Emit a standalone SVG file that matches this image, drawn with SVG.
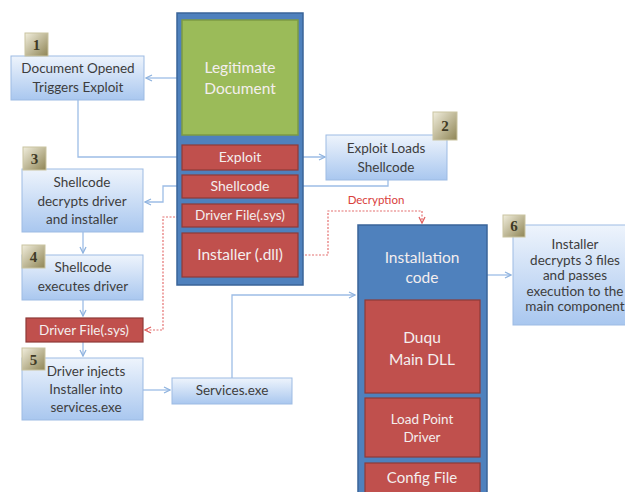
<svg xmlns="http://www.w3.org/2000/svg" width="625" height="492" viewBox="0 0 625 492">
  <defs>
    <linearGradient id="stepFill" x1="0" y1="0" x2="0" y2="1">
      <stop offset="0" stop-color="#eef4fc"/>
      <stop offset="1" stop-color="#a9c7ef"/>
    </linearGradient>
    <linearGradient id="badgeFill" x1="0" y1="0" x2="1" y2="1">
      <stop offset="0" stop-color="#f1eedd"/>
      <stop offset="1" stop-color="#8f8555"/>
    </linearGradient>
    <marker id="arrowBlue" viewBox="0 0 8 8" refX="7" refY="4" markerWidth="8" markerHeight="8" markerUnits="userSpaceOnUse" orient="auto">
      <path d="M1,1 L7,4 L1,7" fill="none" stroke="#8fb3df" stroke-width="1.3"/>
    </marker>
    <marker id="arrowRed" viewBox="0 0 8 8" refX="7" refY="4" markerWidth="8" markerHeight="8" markerUnits="userSpaceOnUse" orient="auto">
      <path d="M1,1 L7,4 L1,7" fill="none" stroke="#e06060" stroke-width="1.3"/>
    </marker>
  </defs>
  <style>
    .step { fill: url(#stepFill); stroke: #9dbbe3; stroke-width: 1; }
    .badge { fill: url(#badgeFill); stroke: #c9c3a0; stroke-width: 1; }
    .badgeText { font-family: "Liberation Serif", serif; font-size: 15px; font-weight: bold; fill: #3f3a26; text-anchor: middle; }
    .stepText { font-family: Lato, "Liberation Sans", sans-serif; font-size: 13.5px; fill: #3d3d3d; text-anchor: middle; }
    .container { fill: #4f81bd; stroke: #3a6499; stroke-width: 1.5; }
    .doc { fill: #9bbb59; stroke: #7d9a43; stroke-width: 1.5; }
    .part { fill: #c0504d; stroke: #8e3a38; stroke-width: 1.2; }
    .whiteText { font-family: Lato, "Liberation Sans", sans-serif; fill: #f4eeee; text-anchor: middle; }
    .link { fill: none; stroke: #9dbde6; stroke-width: 1.3; }
    .redLink { fill: none; stroke: #e47070; stroke-width: 1.2; stroke-dasharray: 2 1.5; }
    .redLabel { font-family: Lato, "Liberation Sans", sans-serif; font-size: 11.5px; fill: #d9403c; text-anchor: middle; }
  </style>

  <rect width="625" height="492" fill="#ffffff"/>

  <!-- connectors (drawn first so the columns sit on top) -->
  <g id="connectors">
    <path class="link" d="M177,78 H146" marker-end="url(#arrowBlue)"/>
    <path class="link" d="M78,100 V157 H325" marker-end="url(#arrowBlue)"/>
    <path class="link" d="M388,180 V186 H163 V202 H145" marker-end="url(#arrowBlue)"/>
    <path class="link" d="M83,232 V253" marker-end="url(#arrowBlue)"/>
    <path class="link" d="M83,300 V316" marker-end="url(#arrowBlue)"/>
    <path class="link" d="M83,342 V356" marker-end="url(#arrowBlue)"/>
    <path class="link" d="M143,390 H170" marker-end="url(#arrowBlue)"/>
    <path class="link" d="M232,378 V295 H355" marker-end="url(#arrowBlue)"/>
    <path class="link" d="M487,275 H511" marker-end="url(#arrowBlue)"/>
    <path class="redLink" d="M182,217 H163 V330 H145" marker-end="url(#arrowRed)"/>
    <path class="redLink" d="M298,255 H328 V211 H422 V223" marker-end="url(#arrowRed)"/>
    <text class="redLabel" x="376" y="204">Decryption</text>
  </g>

  <!-- payload document column -->
  <g id="document">
    <rect class="container" x="177" y="13" width="126" height="272"/>
    <rect class="doc" x="182" y="20" width="116" height="115"/>
    <text class="whiteText" x="240" y="73" font-size="15.5">Legitimate</text>
    <text class="whiteText" x="240" y="94" font-size="15.5">Document</text>
  </g>
  <g id="exploit">
    <rect class="part" x="182" y="145" width="116" height="25"/>
    <text class="whiteText" x="240" y="162" font-size="14">Exploit</text>
  </g>
  <g id="shellcode">
    <rect class="part" x="182" y="175" width="116" height="23"/>
    <text class="whiteText" x="240" y="191" font-size="14">Shellcode</text>
  </g>
  <g id="driverfile-embedded">
    <rect class="part" x="182" y="204" width="116" height="23"/>
    <text class="whiteText" x="240" y="220" font-size="13.5">Driver File(.sys)</text>
  </g>
  <g id="installer-embedded">
    <rect class="part" x="182" y="233" width="116" height="44"/>
    <text class="whiteText" x="240" y="260" font-size="15.5">Installer (.dll)</text>
  </g>

  <!-- step 1 -->
  <g id="step1">
    <rect class="step" x="11" y="56" width="133" height="44"/>
    <text class="stepText" x="78" y="73">Document Opened</text>
    <text class="stepText" x="78" y="92">Triggers Exploit</text>
    <rect class="badge" x="25" y="33" width="23" height="23"/>
    <text class="badgeText" x="36.5" y="50">1</text>
  </g>

  <!-- step 2 -->
  <g id="step2">
    <rect class="step" x="326" y="135" width="121" height="45"/>
    <text class="stepText" x="386" y="153">Exploit Loads</text>
    <text class="stepText" x="386" y="172">Shellcode</text>
    <rect class="badge" x="433" y="112" width="24" height="28"/>
    <text class="badgeText" x="445" y="131">2</text>
  </g>

  <!-- step 3 -->
  <g id="step3">
    <rect class="step" x="22" y="169" width="121" height="63"/>
    <text class="stepText" x="82" y="187">Shellcode</text>
    <text class="stepText" x="82" y="206">decrypts driver</text>
    <text class="stepText" x="82" y="224">and installer</text>
    <rect class="badge" x="23" y="147" width="23" height="23"/>
    <text class="badgeText" x="34.5" y="164">3</text>
  </g>

  <!-- step 4 -->
  <g id="step4">
    <rect class="step" x="22" y="255" width="121" height="45"/>
    <text class="stepText" x="83" y="272">Shellcode</text>
    <text class="stepText" x="83" y="291">executes driver</text>
    <rect class="badge" x="22" y="245" width="23" height="23"/>
    <text class="badgeText" x="33.5" y="262">4</text>
  </g>

  <!-- dropped driver -->
  <g id="driverfile">
    <rect class="part" x="26" y="318" width="117" height="24"/>
    <text class="whiteText" x="84" y="335" font-size="13.5">Driver File(.sys)</text>
  </g>

  <!-- step 5 -->
  <g id="step5">
    <rect class="step" x="22" y="358" width="121" height="62"/>
    <text class="stepText" x="86" y="376">Driver injects</text>
    <text class="stepText" x="86" y="394">Installer into</text>
    <text class="stepText" x="86" y="412">services.exe</text>
    <rect class="badge" x="22" y="348" width="23" height="22"/>
    <text class="badgeText" x="33.5" y="365">5</text>
  </g>

  <!-- services process -->
  <g id="services">
    <rect class="step" x="172" y="378" width="120" height="26"/>
    <text class="stepText" x="232" y="395">Services.exe</text>
  </g>

  <!-- installation code column -->
  <g id="installation">
    <rect class="container" x="358" y="225" width="129" height="280"/>
    <text class="whiteText" x="422" y="263" font-size="15.5">Installation</text>
    <text class="whiteText" x="422" y="283" font-size="15.5">code</text>
  </g>
  <g id="maindll">
    <rect class="part" x="365" y="300" width="115" height="93"/>
    <text class="whiteText" x="422" y="343" font-size="15.5">Duqu</text>
    <text class="whiteText" x="422" y="365" font-size="15.5">Main DLL</text>
  </g>
  <g id="loadpoint">
    <rect class="part" x="365" y="398" width="115" height="59"/>
    <text class="whiteText" x="422" y="424" font-size="13.5">Load Point</text>
    <text class="whiteText" x="422" y="442" font-size="13.5">Driver</text>
  </g>
  <g id="configfile">
    <rect class="part" x="365" y="463" width="115" height="40"/>
    <text class="whiteText" x="422" y="483" font-size="15">Config File</text>
  </g>

  <!-- step 6 -->
  <g id="step6">
    <rect class="step" x="513" y="225" width="125" height="100"/>
    <g font-size="12.5">
      <text class="stepText" x="575" y="249" font-size="12.5">Installer</text>
      <text class="stepText" x="575" y="264.5" font-size="12.5">decrypts 3 files</text>
      <text class="stepText" x="575" y="280" font-size="12.5">and passes</text>
      <text class="stepText" x="575" y="295.5" font-size="12.5">execution to the</text>
      <text class="stepText" x="575" y="311" font-size="12.5">main component</text>
    </g>
    <rect class="badge" x="503" y="215" width="22" height="22"/>
    <text class="badgeText" x="514" y="231" font-size="13">6</text>
  </g>
</svg>
